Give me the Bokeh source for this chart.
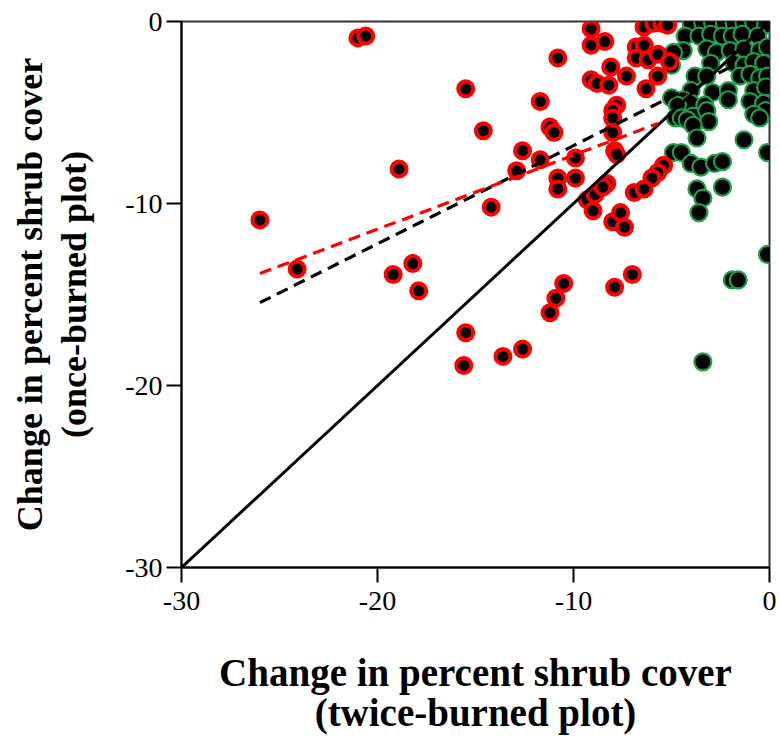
from bokeh.plotting import figure
from bokeh.models import FixedTicker, Range1d
from bokeh.embed import file_html
from bokeh.resources import INLINE

# ---------------- data ----------------
red_x = [-26.0, -24.1, -21.0, -20.6, -19.2, -18.9, -18.2, -17.9, -15.5, -15.5,
         -15.6, -14.6, -14.2, -13.6, -12.6, -12.6, -12.9, -11.7, -11.7, -11.2,
         -11.0, -11.2, -10.9, -10.5, -10.8, -10.8, -10.8, -9.9, -9.9, -9.1,
         -9.1, -8.4, -9.1, -8.8, -8.2, -8.1, -7.3, -9.3, -8.9, -9.0,
         -8.3, -8.5, -8.0, -7.6, -7.4, -7.9, -7.0, -6.9, -7.8, -8.0,
         -8.0, -8.0, -7.9, -7.8, -6.4, -5.9, -5.5, -5.2, -6.8, -6.4,
         -6.8, -6.2, -5.7, -5.1, -5.7, -6.3, -5.4, -5.7, -6.0, -6.4]
red_y = [-10.9, -13.6, -0.9, -0.8, -13.9, -8.1, -13.3, -14.8, -3.7, -17.1,
         -18.9, -6.0, -10.2, -18.4, -18.0, -7.1, -8.2, -7.6, -4.4, -5.8,
         -6.1, -16.0, -15.2, -14.4, -2.0, -8.6, -9.2, -7.5, -8.6, -0.4,
         -1.3, -1.1, -3.2, -3.4, -3.5, -2.5, -3.0, -9.8, -9.5, -10.4,
         -8.9, -9.1, -11.0, -10.5, -11.3, -14.6, -13.9, -9.4, -4.6, -4.9,
         -5.3, -6.1, -7.1, -7.3, -0.3, -0.1, -0.1, -0.2, -1.4, -1.3,
         -2.0, -2.1, -1.8, -2.2, -3.0, -3.7, -7.9, -8.3, -8.6, -9.2]

green_x = [0.0,
           -4.0, -3.4, -2.9, -2.3, -1.8, -1.3, -0.8, -0.2,
           -4.3, -3.6, -3.0, -2.4, -1.9, -1.4, -0.6,
           -4.4, -3.2, -2.7, -2.0, -1.3, -0.5, -0.1,
           -4.9, -5.0,
           -3.0, -1.8, -1.3, -0.8, -0.3,
           -3.8, -3.2, -1.5, -1.0, -0.5, -0.1,
           -4.0, -2.9, -2.1, -0.8, -0.2,
           -5.0, -4.4, -4.0, -3.3, -2.1, -1.0, -0.3, -0.2,
           -4.7, -4.8,
           -3.9, -3.2, -3.1, -0.8, -0.5,
           -4.5, -4.2, -3.9,
           -3.7, -1.3, -0.1,
           -4.9, -4.5,
           -4.0, -3.5, -2.8, -2.4,
           -2.4, -3.7, -3.4,
           -3.6,
           -0.1,
           -1.9, -1.6,
           -3.4]
green_y = [0.0,
           -0.1, -0.1, -0.1, -0.1, -0.1, -0.1, -0.1, -0.2,
           -0.8, -0.8, -0.7, -0.8, -0.8, -0.7, -0.8,
           -1.6, -1.5, -1.7, -1.6, -1.5, -1.6, -1.4,
           -1.7, -2.4,
           -2.3, -2.3, -2.4, -2.2, -2.3,
           -3.0, -3.0, -3.0, -2.9, -3.1, -3.0,
           -3.8, -3.9, -3.8, -3.8, -3.6,
           -4.2, -4.3, -4.5, -4.6, -4.3, -4.4, -4.5, -4.9,
           -4.6, -5.3,
           -5.2, -4.9, -5.5, -5.1, -5.3,
           -5.3, -5.4, -5.7,
           -6.4, -6.5, -7.2,
           -7.2, -7.2,
           -7.8, -8.0, -7.8, -7.7,
           -9.1, -9.2, -9.7,
           -10.5,
           -12.8,
           -14.2, -14.2,
           -18.7]

one_to_one_x = [-30, 0]
one_to_one_y = [-30, 0]
all_fit_x = [-26.0, -1.8]
all_fit_y = [-15.45, -2.4]
red_fit_x = [-26.0, -5.7]
red_fit_y = [-13.85, -5.6]

tick_values = [-30, -20, -10, 0]
tick_labels = ["-30", "-20", "-10", "0"]
x_label = "Change in percent shrub cover\n(twice-burned plot)"
y_label = "Change in percent shrub cover\n(once-burned plot)"

# ---------------- figure ----------------
SERIF = "Liberation Serif"

p = figure(width=780, height=741, output_backend="svg", toolbar_location=None,
           x_range=Range1d(-30, 0), y_range=Range1d(-30, 0),
           min_border_left=181, min_border_right=11,
           min_border_top=21, min_border_bottom=174)
p.background_fill_color = "white"
p.border_fill_color = "white"
p.outline_line_color = "#333333"
p.outline_line_width = 2
p.xgrid.visible = False
p.ygrid.visible = False

for ax in (p.xaxis[0], p.yaxis[0]):
    ax.ticker = FixedTicker(ticks=tick_values)
    ax.major_label_overrides = {v: s for v, s in zip(tick_values, tick_labels)}
    ax.major_tick_out = 15
    ax.major_tick_in = 0
    ax.minor_tick_out = 0
    ax.minor_tick_in = 0
    ax.axis_line_width = 2
    ax.axis_line_color = "black"
    ax.major_tick_line_width = 2
    ax.major_tick_line_color = "black"
    ax.major_label_text_font = SERIF
    ax.major_label_text_font_size = "28px"
    ax.major_label_text_color = "black"
    ax.axis_label_text_font = SERIF
    ax.axis_label_text_font_style = "bold"
    ax.axis_label_text_color = "black"

p.xaxis.axis_label = x_label
p.yaxis.axis_label = y_label
p.xaxis.axis_label_text_font_size = "39px"
p.yaxis.axis_label_text_font_size = "36px"
p.xaxis.axis_label_text_line_height = 0.95
p.yaxis.axis_label_text_line_height = 1.1
p.xaxis.major_label_standoff = 9
p.yaxis.major_label_standoff = 4
p.xaxis.axis_label_standoff = 38
p.yaxis.axis_label_standoff = 28

# points
p.scatter(green_x, green_y, size=17, fill_color="black",
          line_color="#1f9e4b", line_width=2.2)
p.scatter(red_x, red_y, size=15, fill_color="black",
          line_color="#ff0000", line_width=4)

# lines
p.line(one_to_one_x, one_to_one_y, line_color="black", line_width=3)
p.line(all_fit_x, all_fit_y, line_color="black", line_width=3.2,
       line_dash="12 7")
p.line(red_fit_x, red_fit_y, line_color="#ff0000", line_width=3.2,
       line_dash="12 7")

open("out.html", "w").write(file_html(p, INLINE))
